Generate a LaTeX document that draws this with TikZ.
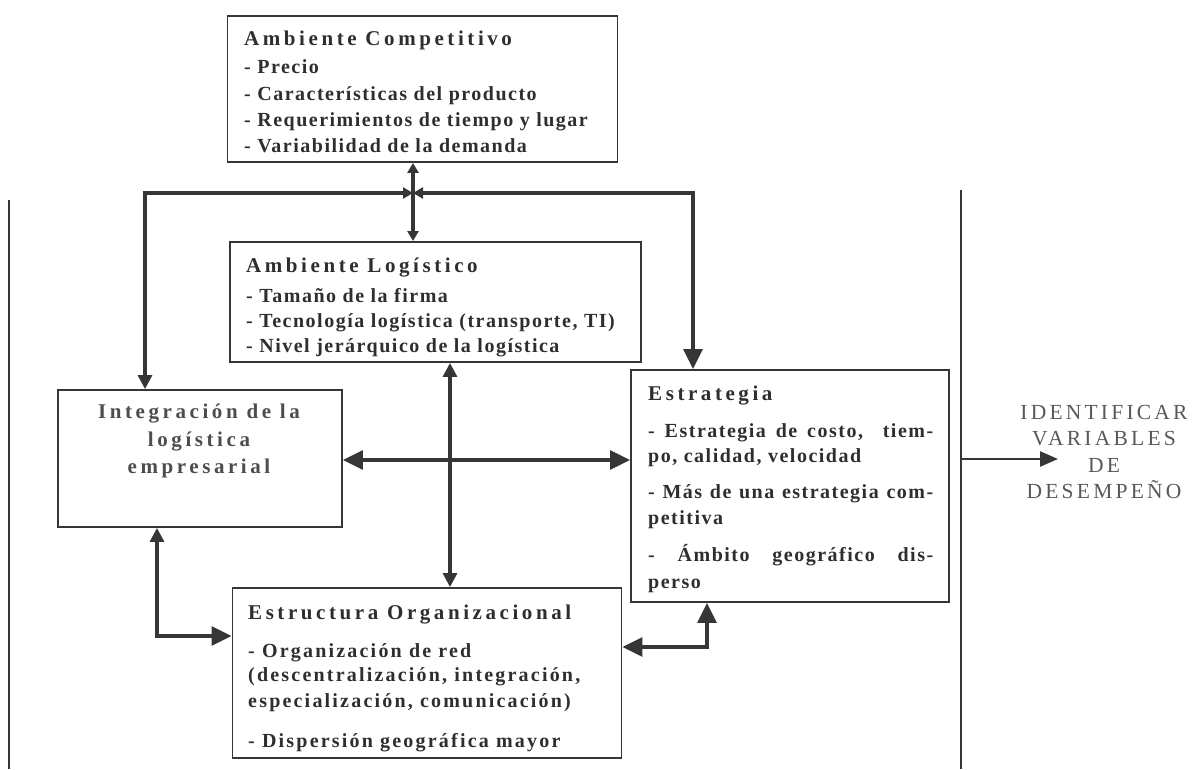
\documentclass[tikz,border=0pt]{standalone}
\usepackage{fontspec}
\setmainfont{Liberation Serif}
\newfontfamily\ttlfont[LetterSpace=17]{Liberation Serif}
\newfontfamily\bodyfont[LetterSpace=7.5]{Liberation Serif}
\newfontfamily\bodyeo[LetterSpace=11]{Liberation Serif}
\newfontfamily\idfont[LetterSpace=15]{Liberation Serif}
\usetikzlibrary{arrows.meta}
\definecolor{ink}{HTML}{363636}
\definecolor{txt}{HTML}{2E2E2E}
\tikzset{
  box/.style={draw=ink, line width=1.9pt, inner sep=0pt},
  ttl/.style={anchor=base west, inner sep=0pt, text=txt, font=\ttlfont\bfseries\fontsize{21}{24}\selectfont},
  bod/.style={anchor=base west, inner sep=0pt, text=txt, font=\bodyfont\bfseries\fontsize{20}{24}\selectfont},
  bodeo/.style={anchor=base west, inner sep=0pt, text=txt, font=\bodyeo\bfseries\fontsize{20}{24}\selectfont},
  ctr/.style={anchor=base, inner sep=0pt, text=txt!85, font=\ttlfont\bfseries\fontsize{21}{24}\selectfont},
  big/.tip={Triangle[length=20pt,width=19pt]},
  mid/.tip={Triangle[length=14pt,width=14pt]},
  sml/.tip={Triangle[length=10pt,width=11pt]},
  conn/.style={draw=ink, line width=3.2pt},
  sep/.style={draw=ink, line width=1.4pt},
}
\begin{document}
\begin{tikzpicture}[x=1pt,y=-1pt]
\useasboundingbox (0,0) rectangle (1200,769);

% boxes
\node[box, minimum width=390pt, minimum height=146pt] (ac) at (422.5,89) {};
\node[box, minimum width=411pt, minimum height=120pt] (al) at (435.5,302) {};
\node[box, minimum width=284pt, minimum height=137pt] (int) at (200,458.5) {};
\node[box, minimum width=318pt, minimum height=232pt] (est) at (790,486) {};
\node[box, minimum width=389pt, minimum height=170pt] (eo) at (427,673) {};

% Ambiente Competitivo
\node[ttl] (ac0) at (244,45) {Ambiente Competitivo};
\node[bod] (ac1) at (244,73) {- Precio};
\node[bod] (ac2) at (244,100) {- Características del producto};
\node[bod] (ac3) at (244,126) {- Requerimientos de tiempo y lugar};
\node[bod] (ac4) at (244,152) {- Variabilidad de la demanda};

% Ambiente Logistico
\node[ttl] (al0) at (246,272) {Ambiente Logístico};
\node[bod] (al1) at (246,302) {- Tamaño de la firma};
\node[bod] (al2) at (246,327) {- Tecnología logística (transporte, TI)};
\node[bod] (al3) at (246,352) {- Nivel jerárquico de la logística};

% Integracion
\node[ctr] (in0) at (199,418) {Integración de la};
\node[ctr] (in1) at (199,446) {logística};
\node[ctr] (in2) at (199,473) {empresarial};

% Estrategia
\node[ttl] (es0) at (648,400) {Estrategia};
\node[bod] (es1) at (648,437) {\makebox[285pt][s]{- Estrategia de costo,\ \ tiem-}};
\node[bod] (es2) at (648,462) {po, calidad, velocidad};
\node[bod] (es3) at (648,498) {\makebox[285pt][s]{- Más de una estrategia com-}};
\node[bod] (es4) at (648,524) {petitiva};
\node[bod] (es5) at (648,561) {\makebox[285pt][s]{- Ámbito geográfico dis-}};
\node[bod] (es6) at (648,588) {perso};

% Estructura Organizacional
\node[ttl] (eo0) at (248,619) {Estructura Organizacional};
\node[bodeo] (eo1) at (248,657) {- Organización de red};
\node[bodeo] (eo2) at (248,681) {(descentralización, integración,};
\node[bodeo] (eo3) at (248,707) {especialización, comunicación)};
\node[bodeo] (eo4) at (248,747) {- Dispersión geográfica mayor};

% identificar
\node[anchor=center, inner sep=0pt, align=center, text=txt!80,
      font=\idfont\fontsize{21.5}{26.5}\selectfont] (id) at (1104,452)
      {IDENTIFICAR\\VARIABLES\\DE\\DESEMPEÑO};

% separators
\coordinate (sl0) at (9,200);
\coordinate (sl1) at (9,769);
\coordinate (sr0) at (961,190);
\coordinate (sr1) at (961,769);
\draw[sep] (sl0) -- (sl1);
\draw[sep] (sr0) -- (sr1);
\coordinate (outp) at (961,459);
\coordinate (outq) at (1058,459);
\draw[conn, line width=2.4pt, -{Triangle[length=18pt,width=15pt]}] (outp) -- (outq);

% connectors
\coordinate (j) at (413,193);
\coordinate (cl) at (145,193);
\coordinate (cr) at (693,193);
\draw[conn, sml-sml] (ac.south -| j) -- (al.north -| j);
\draw[conn, mid-sml] (int.north -| cl) -- (cl) -- (j);
\draw[conn, big-sml] (est.north -| cr) -- (cr) -- (j);
\coordinate (v) at (450,450);
\draw[conn, mid-mid] (al.south -| v) -- (eo.north -| v);
\coordinate (h) at (400,460);
\draw[conn, big-big] (int.east |- h) -- (est.west |- h);
\coordinate (bl) at (157,636);
\draw[conn, mid-big] (int.south -| bl) -- (bl) -- (eo.west |- bl);
\coordinate (br) at (707,647);
\draw[conn, big-big] (eo.east |- br) -- (br) -- (est.south -| br);
\end{tikzpicture}
\end{document}
